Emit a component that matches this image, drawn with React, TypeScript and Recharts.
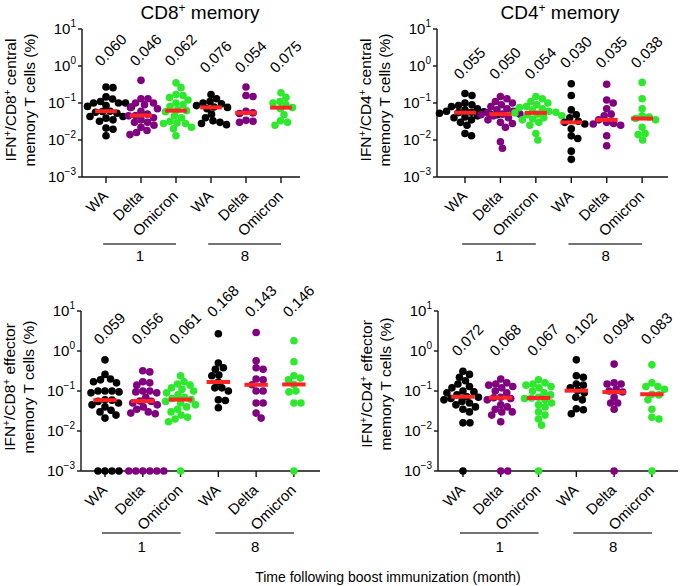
import React from "react";
import { ScatterChart, Scatter, XAxis, YAxis } from "recharts";

const variants = ["WA", "Delta", "Omicron", "WA", "Delta", "Omicron"];
const months = ["1", "8"];
const yTicks = [0.001, 0.01, 0.1, 1, 10];
const dotColors = ["#000000", "#800080", "#2ee82e", "#000000", "#800080", "#2ee82e"];

// CD8+ central memory
const cd8Central = [
  [0.27, 0.26, 0.146, 0.128, 0.11, 0.1, 0.1, 0.1, 0.085, 0.081, 0.078, 0.06, 0.059, 0.056, 0.053, 0.043, 0.043, 0.039, 0.035, 0.032, 0.021, 0.0195, 0.013],
  [0.41, 0.13, 0.13, 0.1, 0.1, 0.09, 0.075, 0.07, 0.06, 0.05, 0.046, 0.045, 0.04, 0.035, 0.03, 0.03, 0.025, 0.022, 0.018, 0.016, 0.014],
  [0.35, 0.26, 0.17, 0.16, 0.14, 0.12, 0.1, 0.09, 0.08, 0.066, 0.062, 0.058, 0.045, 0.04, 0.032, 0.029, 0.028, 0.028, 0.022, 0.02, 0.013],
  [0.17, 0.13, 0.11, 0.1, 0.095, 0.085, 0.078, 0.076, 0.07, 0.05, 0.04, 0.033, 0.03, 0.028, 0.026],
  [0.27, 0.16, 0.15, 0.06, 0.054, 0.052, 0.034, 0.032, 0.03],
  [0.19, 0.14, 0.11, 0.1, 0.09, 0.075, 0.07, 0.048, 0.033, 0.03, 0.025],
];
const cd8CentralMedians = [0.06, 0.046, 0.062, 0.076, 0.054, 0.075];

// CD4+ central memory
const cd4Central = [
  [0.18, 0.16, 0.1, 0.09, 0.085, 0.08, 0.07, 0.065, 0.06, 0.058, 0.056, 0.055, 0.053, 0.05, 0.048, 0.045, 0.042, 0.04, 0.035, 0.03, 0.025, 0.015, 0.013],
  [0.15, 0.13, 0.11, 0.1, 0.09, 0.08, 0.07, 0.065, 0.06, 0.055, 0.05, 0.05, 0.048, 0.045, 0.04, 0.035, 0.03, 0.028, 0.022, 0.009, 0.006],
  [0.15, 0.13, 0.11, 0.1, 0.09, 0.08, 0.075, 0.07, 0.065, 0.06, 0.056, 0.054, 0.05, 0.048, 0.045, 0.04, 0.037, 0.035, 0.03, 0.025, 0.015, 0.01],
  [0.33, 0.16, 0.065, 0.048, 0.04, 0.032, 0.03, 0.027, 0.02, 0.013, 0.011, 0.005, 0.003],
  [0.32, 0.12, 0.1, 0.07, 0.05, 0.045, 0.035, 0.03, 0.028, 0.027, 0.025, 0.013, 0.007],
  [0.36, 0.13, 0.07, 0.045, 0.042, 0.038, 0.035, 0.022, 0.015, 0.014, 0.01],
];
const cd4CentralMedians = [0.055, 0.05, 0.054, 0.03, 0.035, 0.038];

// CD8+ effector memory (0.001 = below detection, drawn on the axis)
const cd8Effector = [
  [0.6, 0.26, 0.2, 0.19, 0.17, 0.16, 0.1, 0.1, 0.1, 0.095, 0.09, 0.06, 0.059, 0.055, 0.05, 0.045, 0.04, 0.033, 0.03, 0.025, 0.021, 0.001, 0.001, 0.001, 0.001],
  [0.32, 0.3, 0.17, 0.16, 0.14, 0.1, 0.1, 0.095, 0.09, 0.07, 0.056, 0.055, 0.05, 0.045, 0.04, 0.035, 0.03, 0.028, 0.027, 0.001, 0.001, 0.001, 0.001, 0.001, 0.001],
  [0.24, 0.17, 0.15, 0.14, 0.12, 0.11, 0.1, 0.09, 0.08, 0.07, 0.065, 0.061, 0.055, 0.05, 0.045, 0.04, 0.035, 0.03, 0.025, 0.022, 0.02, 0.017, 0.001],
  [2.7, 0.5, 0.38, 0.35, 0.25, 0.24, 0.168, 0.12, 0.12, 0.1, 0.06, 0.058, 0.038],
  [2.9, 0.57, 0.38, 0.35, 0.2, 0.19, 0.143, 0.1, 0.1, 0.05, 0.05, 0.028, 0.021],
  [1.8, 0.54, 0.24, 0.21, 0.19, 0.146, 0.1, 0.095, 0.05, 0.05, 0.001],
];
const cd8EffectorMedians = [0.059, 0.056, 0.061, 0.168, 0.143, 0.146];

// CD4+ effector memory
const cd4Effector = [
  [0.31, 0.26, 0.22, 0.18, 0.15, 0.13, 0.12, 0.1, 0.095, 0.09, 0.08, 0.072, 0.07, 0.065, 0.06, 0.055, 0.05, 0.045, 0.04, 0.035, 0.03, 0.016, 0.016, 0.001],
  [0.2, 0.16, 0.15, 0.14, 0.13, 0.12, 0.1, 0.09, 0.07, 0.068, 0.065, 0.06, 0.045, 0.04, 0.035, 0.03, 0.03, 0.025, 0.017, 0.001, 0.001],
  [0.19, 0.16, 0.15, 0.14, 0.13, 0.12, 0.1, 0.09, 0.08, 0.07, 0.067, 0.065, 0.06, 0.05, 0.045, 0.04, 0.03, 0.025, 0.02, 0.014, 0.001],
  [0.6, 0.24, 0.22, 0.15, 0.14, 0.12, 0.102, 0.09, 0.07, 0.06, 0.036, 0.034, 0.027],
  [0.47, 0.16, 0.15, 0.15, 0.11, 0.1, 0.094, 0.07, 0.05, 0.05, 0.035, 0.001],
  [0.45, 0.16, 0.13, 0.13, 0.11, 0.083, 0.08, 0.06, 0.035, 0.022, 0.02, 0.001],
];
const cd4EffectorMedians = [0.072, 0.068, 0.067, 0.102, 0.094, 0.083];

const FONT = "'Liberation Sans', Arial, Helvetica, sans-serif";

// simple beeswarm: horizontal offsets (in category units) so dots don't pile up
function swarm(values: number[], pxPerCat: number, pxPerDecade: number) {
  const D = 6.8;
  const sorted = [...values].sort((a, b) => b - a);
  const placed: { x: number; y: number }[] = [];
  return sorted.map((v) => {
    const y = Math.log10(v) * pxPerDecade;
    let best = 0;
    for (let k = 0; k < 400; k++) {
      const cand = (k % 2 === 1 ? 1 : -1) * Math.ceil(k / 2) * 0.5;
      if (placed.every((p) => (p.x - cand) ** 2 + (p.y - y) ** 2 >= D * D)) {
        best = cand;
        break;
      }
    }
    placed.push({ x: best, y });
    return { dx: best / pxPerCat, v };
  });
}

const XTick = (props: any) => {
  const { x, y, payload, lineOffset, numOffset, spacing } = props;
  const i = Math.round(payload.value);
  return (
    <g>
      <g transform={`translate(${x + 3}, ${y + 12}) rotate(-45)`}>
        <text x={0} y={0} textAnchor="end" fontSize={15} fontFamily={FONT} fill="#000">
          {variants[i]}
        </text>
      </g>
      {i % 3 === 1 && (
        <g>
          <line x1={x - spacing * 1.08} x2={x + spacing * 1.0} y1={y + lineOffset} y2={y + lineOffset} stroke="#444" strokeWidth={1.5} />
          <text x={x - 1} y={y + numOffset} textAnchor="middle" fontSize={15} fontFamily={FONT} fill="#000">
            {months[(i - 1) / 3]}
          </text>
        </g>
      )}
    </g>
  );
};

const YTick = (props: any) => {
  const { x, y, payload } = props;
  const e = Math.round(Math.log10(payload.value));
  return (
    <text x={x} y={y + 5} textAnchor="end" fontSize={15} fontFamily={FONT} fill="#000">
      <tspan>10</tspan>
      <tspan dy={-7} fontSize={10}>{e < 0 ? `\u2212${-e}` : `${e}`}</tspan>
    </text>
  );
};

// median value written along a 45 degree line, glyph by glyph
const MedianText = (props: any) => {
  const { cx, cy, payload } = props;
  const fs = 15;
  const chars = String(payload.txt).split("");
  const xs: number[] = [];
  const ys: number[] = [];
  let s = 0;
  chars.forEach((c) => {
    xs.push(+(cx - 5 + s * Math.SQRT1_2).toFixed(2));
    ys.push(+(cy - s * Math.SQRT1_2).toFixed(2));
    s += (c === "." ? 0.278 : 0.556) * fs;
  });
  return (
    <text
      x={xs.join(" ")}
      y={ys.join(" ")}
      rotate={chars.map(() => -45).join(" ")}
      fontSize={fs}
      fontFamily={FONT}
      fill="#000"
    >
      {payload.txt}
    </text>
  );
};

const panels = [
  { left: 0, top: 0, width: 340, height: 280, axisX: 82, plotTop: 29, plotRight: 300, plotBottom: 177, domain: [-0.686, 5.543], lineOffset: 59, numOffset: 76, groups: cd8Central, medians: cd8CentralMedians },
  { left: 340, top: 0, width: 340, height: 280, axisX: 97, plotTop: 29, plotRight: 328, plotBottom: 177, domain: [-0.79, 5.73], lineOffset: 59, numOffset: 76, groups: cd4Central, medians: cd4CentralMedians },
  { left: 0, top: 280, width: 340, height: 306, axisX: 81, plotTop: 31, plotRight: 320, plotBottom: 191, domain: [-0.635, 5.69], lineOffset: 54, numOffset: 73, groups: cd8Effector, medians: cd8EffectorMedians },
  { left: 340, top: 280, width: 340, height: 306, axisX: 98, plotTop: 31, plotRight: 338, plotBottom: 191, domain: [-0.66, 5.69], lineOffset: 54, numOffset: 73, groups: cd4Effector, medians: cd4EffectorMedians },
];

function Panel({ cfg }: { cfg: any }) {
  const spacing = (cfg.plotRight - cfg.axisX) / (cfg.domain[1] - cfg.domain[0]);
  const decade = (cfg.plotBottom - cfg.plotTop) / 4;
  const dots = cfg.groups.map((vals: number[], gi: number) =>
    swarm(vals, spacing, decade).map((p) => ({ x: gi + p.dx, y: p.v }))
  );
  const medianPts = cfg.medians.map((m: number, gi: number) => ({ x: gi, y: m }));
  const levels = months.map((_, mi) => Math.max(...cfg.groups.slice(mi * 3, mi * 3 + 3).flat()) * 2.3);
  const textPts = cfg.medians.map((m: number, gi: number) => ({
    x: gi,
    y: levels[Math.floor(gi / 3)],
    txt: m.toFixed(3),
  }));
  const half = spacing * 0.31;

  return (
    <div style={{ position: "absolute", left: cfg.left, top: cfg.top }}>
      <ScatterChart
        width={cfg.width}
        height={cfg.height}
        margin={{ top: cfg.plotTop, right: cfg.width - cfg.plotRight, bottom: 0, left: 0 }}
      >
        <XAxis
          type="number"
          dataKey="x"
          domain={cfg.domain}
          ticks={[0, 1, 2, 3, 4, 5]}
          interval={0}
          height={cfg.height - cfg.plotBottom}
          tickSize={6}
          tickMargin={2}
          axisLine={{ stroke: "#111", strokeWidth: 1.4 }}
          tickLine={{ stroke: "#111", strokeWidth: 1.4 }}
          tick={(p: any) => <XTick {...p} lineOffset={cfg.lineOffset} numOffset={cfg.numOffset} spacing={spacing} />}
        />
        <YAxis
          type="number"
          dataKey="y"
          scale="log"
          domain={[0.001, 10]}
          ticks={yTicks}
          interval={0}
          width={cfg.axisX}
          tickSize={4}
          tickMargin={2}
          axisLine={{ stroke: "#111", strokeWidth: 1.4 }}
          tickLine={{ stroke: "#111", strokeWidth: 1.4 }}
          tick={(p: any) => <YTick {...p} />}
        />
        {dots.map((d: any[], gi: number) => (
          <Scatter
            key={gi}
            data={d}
            isAnimationActive={false}
            shape={(p: any) => <circle cx={p.cx} cy={p.cy} r={3.8} fill={dotColors[gi]} />}
          />
        ))}
        <Scatter
          data={medianPts}
          isAnimationActive={false}
          shape={(p: any) => (
            <line x1={p.cx - half} x2={p.cx + half} y1={p.cy} y2={p.cy} stroke="#ff2424" strokeWidth={4} />
          )}
        />
        <Scatter data={textPts} isAnimationActive={false} shape={(p: any) => <MedianText {...p} />} />
      </ScatterChart>
    </div>
  );
}

function YTitle({ x, y, cell, kind }: { x: number; y: number; cell: string; kind: string }) {
  return (
    <g transform={`translate(${x - 66}, ${y}) rotate(-90)`} fontFamily={FONT} fontSize={15.5} fill="#000">
      <text x={0} y={0} textAnchor="middle">
        <tspan>IFN</tspan>
        <tspan dy={-5} fontSize={10}>+</tspan>
        <tspan dy={5}>/{cell}</tspan>
        <tspan dy={-5} fontSize={10}>+</tspan>
        <tspan dy={5}> {kind}</tspan>
      </text>
      <text x={0} y={19} textAnchor="middle">memory T cells (%)</text>
    </g>
  );
}

export default function App() {
  return (
    <div style={{ position: "absolute", left: 0, top: 0, width: 680, height: 586, background: "#fff", fontFamily: FONT }}>
      {panels.map((cfg, i) => (
        <Panel key={i} cfg={cfg} />
      ))}
      <svg width={680} height={586} style={{ position: "absolute", left: 0, top: 0, pointerEvents: "none" }}>
        <text x={200} y={19} textAnchor="middle" fontSize={19} fontFamily={FONT}>
          <tspan>CD8</tspan>
          <tspan dy={-7} fontSize={12}>+</tspan>
          <tspan dy={7}> memory</tspan>
        </text>
        <text x={560} y={19} textAnchor="middle" fontSize={19} fontFamily={FONT}>
          <tspan>CD4</tspan>
          <tspan dy={-7} fontSize={12}>+</tspan>
          <tspan dy={7}> memory</tspan>
        </text>
        <YTitle x={82} y={100} cell="CD8" kind="central" />
        <YTitle x={437} y={100} cell="CD4" kind="central" />
        <YTitle x={81} y={387} cell="CD8" kind="effector" />
        <YTitle x={438} y={384} cell="CD4" kind="effector" />
        <text x={388} y={582} textAnchor="middle" fontSize={14} fontFamily={FONT}>
          Time following boost immunization (month)
        </text>
      </svg>
    </div>
  );
}
